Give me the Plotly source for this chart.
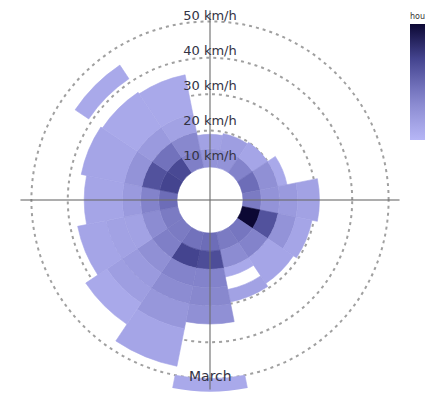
import plotly.graph_objects as go

# ---------------- data ----------------
directions = ["N", "NNE", "NE", "ENE", "E", "ESE", "SE", "SSE",
              "S", "SSW", "SW", "WSW", "W", "WNW", "NW", "NNW"]
direction_deg = [0, 22.5, 45, 67.5, 90, 112.5, 135, 157.5,
                 180, 202.5, 225, 247.5, 270, 292.5, 315, 337.5]

# one entry per coloured cell: direction, speed range (km/h), hours
cell_direction = (["N"] * 2 + ["NNE"] * 2 + ["NE"] * 2 + ["ENE"] * 3 + ["E"] * 4 +
                  ["ESE"] * 4 + ["SE"] * 3 + ["SSE"] * 4 + ["S"] * 6 + ["SSW"] * 6 +
                  ["SW"] * 6 + ["WSW"] * 5 + ["W"] * 4 + ["WNW"] * 4 + ["NW"] * 5 + ["NNW"] * 4)
cell_from = [0, 5,  0, 5,  0, 5,  0, 5, 10,  0, 5, 10, 15,
             0, 5, 10, 15,  0, 5, 10,  0, 5, 10, 16,
             0, 5, 10, 15, 20, 40,  0, 5, 10, 15, 20, 27,
             0, 5, 10, 15, 20, 25,  0, 5, 10, 15, 20,
             0, 5, 10, 15,  0, 5, 10, 15,  0, 5, 10, 15, 31,  0, 5, 10, 15]
cell_to = [5, 9,  5, 9.5,  5, 10,  5, 10, 12.5,  5, 10, 15, 21,
           5, 10, 15, 19.5,  5, 10, 18.5,  5, 10, 12.5, 19.5,
           5, 10, 15, 20, 25, 45,  5, 10, 15, 20, 27, 37.5,
           5, 10, 15, 20, 25, 32,  5, 10, 15, 20, 28,
           5, 10, 15, 25.5,  5, 10, 15, 27,  5, 10, 15, 26.5, 35.5,  5, 10, 15, 26]
cell_hours = [10, 6,  10, 7,  14, 5,  19, 11, 4,  16, 10, 8, 6,
              40, 25, 10, 5,  17, 14, 5,  16, 12, 4, 6,
              19, 26, 14, 13, 11, 4,  18, 28, 14, 12, 9, 5,
              16, 15, 11, 8, 7, 4,  16, 12, 6, 6, 5,
              19, 14, 8, 5,  28, 25, 10, 5,  27, 18, 8, 4, 4,  15, 13, 6, 4]

speed_ticks = [10, 20, 30, 40]
speed_labels = ["10 km/h", "20 km/h", "30 km/h", "40 km/h", "50 km/h"]
label_speeds = [10, 20, 30, 40, 50]
month = "March"

# ---------------- styling constants ----------------
OFF = 8                       # default page margin of the html body
W, H = 433 - OFF, 408 - OFF   # figure size that fits in the window
PX_PER_KMH = 3.64
HOLE = -9.07                  # radial value at the centre (white hole)
R_MAX = 43.6
AXIS_EXTENT = 43
LABEL_SCALE, LABEL_SHIFT = 0.968, 7.0
SECTOR = 22.5
colorscale = [[0, "#b6b6f6"], [0.12, "#a6a6e8"], [0.3, "#8c8cd2"],
              [0.45, "#7272bc"], [0.7, "#44448f"], [1, "#0c0834"]]


def clamp(v):
    return min(1.0, max(0.0, v))


def px(x):
    return clamp((x - OFF) / W)


def py(y):
    return clamp(1 - (y - OFF) / H)


deg_of = dict(zip(directions, direction_deg))
theta = [deg_of[d] for d in cell_direction]
lengths = [t - f for f, t in zip(cell_from, cell_to)]

fig = go.Figure()
fig.add_trace(go.Barpolar(
    theta=theta, r=lengths, base=cell_from, width=[SECTOR] * len(theta),
    marker=dict(color=cell_hours, colorscale=colorscale, cmin=0, cmax=40,
                line=dict(width=0.6, color=cell_hours, colorscale=colorscale,
                          cmin=0, cmax=40),
                showscale=True,
                colorbar=dict(x=px(410), xanchor="left", y=py(10), yanchor="top",
                              xpad=0, ypad=0,
                              len=130 / H, lenmode="fraction", thickness=30,
                              outlinewidth=0, showticklabels=False, ticks="",
                              title=dict(text="hours", side="top",
                                         font=dict(size=8, color="#333",
                                                   family="DejaVu Sans")))),
    hoverinfo="skip",
))

# axis cross (drawn above the bars)
for a in (0, 90):
    fig.add_trace(go.Scatterpolar(
        theta=[a, a + 180], r=[AXIS_EXTENT, AXIS_EXTENT], mode="lines",
        line=dict(color="rgba(110,110,110,0.75)", width=1.5),
        hoverinfo="skip", showlegend=False))

# speed labels along the north axis
fig.add_trace(go.Scatterpolar(
    theta=[0] * len(label_speeds),
    r=[s * LABEL_SCALE - LABEL_SHIFT for s in label_speeds],
    mode="text", text=speed_labels,
    textfont=dict(family="DejaVu Sans", size=13, color="#333344"),
    hoverinfo="skip", showlegend=False))

cx, cy, rad = 210, 200, (R_MAX - HOLE) * PX_PER_KMH
fig.update_layout(
    width=W, height=H,
    margin=dict(l=0, r=0, t=0, b=0, autoexpand=False),
    paper_bgcolor="white", plot_bgcolor="white",
    showlegend=False,
    polar=dict(
        domain=dict(x=[px(cx - rad), px(cx + rad)],
                    y=[py(cy + rad), py(cy - rad)]),
        bgcolor="white",
        radialaxis=dict(range=[HOLE, R_MAX], tickvals=speed_ticks,
                        showticklabels=False, ticks="", showline=False,
                        gridcolor="#a0a0a0", gridwidth=1.5, griddash="3px,4px"),
        angularaxis=dict(direction="clockwise", rotation=90, showgrid=False,
                         showticklabels=False, ticks="", showline=False),
    ),
    annotations=[dict(text=month, x=px(cx), y=py(386), xref="paper", yref="paper",
                      showarrow=False, font=dict(family="DejaVu Sans", size=14, color="#333344"))],
)

fig.write_html("out.html")
